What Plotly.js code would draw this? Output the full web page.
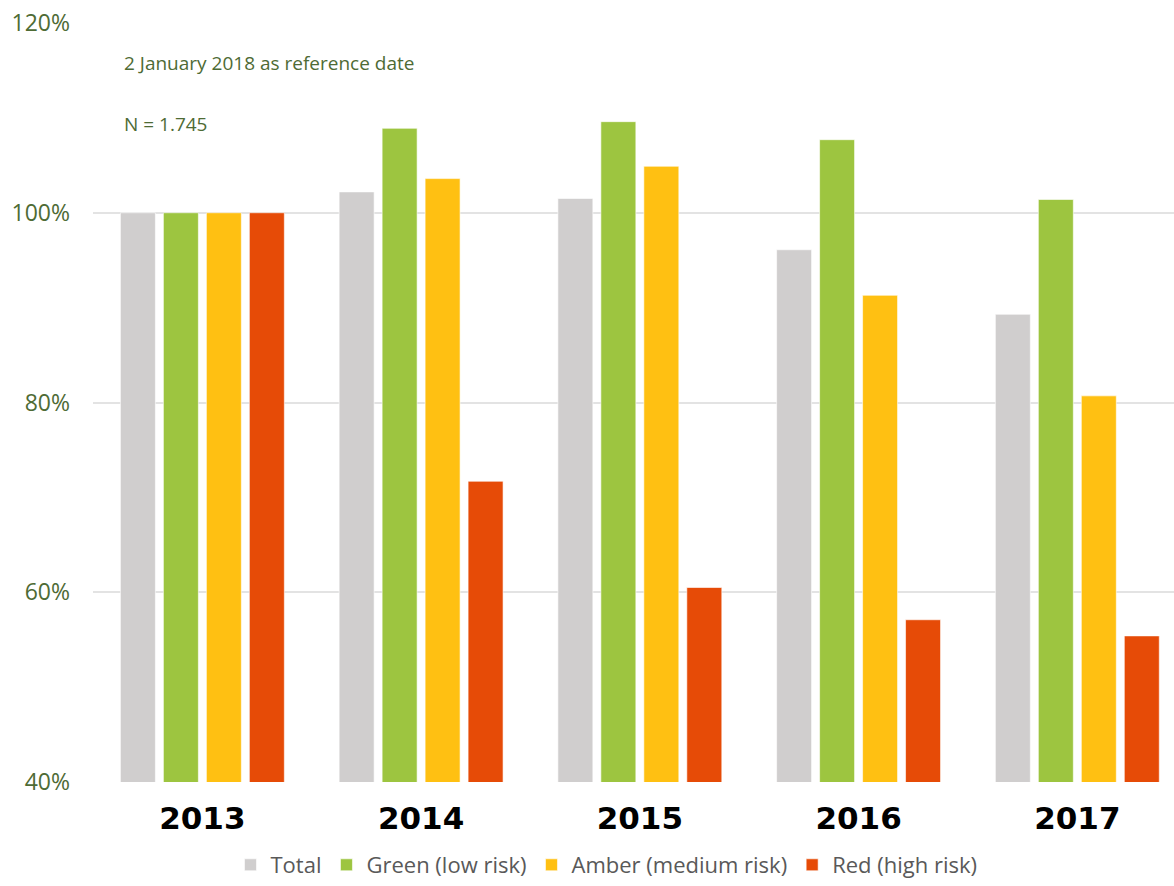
<!DOCTYPE html>
<html>
<head>
<meta charset="utf-8">
<script src="https://cdn.plot.ly/plotly-3.0.1.min.js"></script>
<style>html,body{margin:0;padding:0;background:#fff;}#chart{width:1174px;height:886px;}</style>
</head>
<body>
<div id="chart"></div>
<script>
const years = ["2013", "2014", "2015", "2016", "2017"];
const totalVals = [100, 102.2, 101.5, 96.1, 89.3];
const greenVals = [100, 108.9, 109.6, 107.7, 101.4];
const amberVals = [100, 103.6, 104.9, 91.3, 80.7];
const redVals = [100, 71.7, 60.5, 57.1, 55.4];
const seriesNames = ["Total", "Green (low risk)", "Amber (medium risk)", "Red (high risk)"];
const seriesColors = ["#d0cece", "#9dc540", "#ffc012", "#e64b07"];
const yTicks = [40, 60, 80, 100, 120];
const yTickText = ["40%", "60%", "80%", "100%", "120%"];
const noteLines = ["2 January 2018 as reference date", "N = 1.745"];

const allVals = [totalVals, greenVals, amberVals, redVals];
const traces = allVals.map((v, i) => ({
  type: "bar",
  x: years,
  y: v,
  name: seriesNames[i],
  marker: {color: seriesColors[i], line: {color: "rgba(255,255,255,0.6)", width: 1}},
  hoverinfo: "y+name"
}));

const textColor = "#4e6b35";
const layout = {
  width: 1174, height: 886,
  margin: {l: 93, r: 0, t: 23, b: 104},
  paper_bgcolor: "#fff", plot_bgcolor: "#fff",
  barmode: "group",
  bargap: 0.214,
  bargroupgap: 0.186,
  showlegend: true,
  legend: {
    orientation: "h", x: 0.475, xanchor: "center", y: -0.137, yanchor: "bottom",
    font: {family: "Open Sans", size: 22, color: "#595959"},
    itemwidth: 30, traceorder: "normal"
  },
  xaxis: {
    type: "category",
    range: [-0.5, 4.442],
    showgrid: false, zeroline: false, showline: false, ticks: "",
    tickfont: {family: "DejaVu Sans", size: 31, color: "#000", weight: 700},
    ticklabelstandoff: 15, automargin: false
  },
  yaxis: {
    range: [40, 120],
    tickvals: yTicks, ticktext: yTickText,
    showgrid: true, gridcolor: "#e3e3e3", gridwidth: 2,
    zeroline: false, showline: false, ticks: "",
    tickfont: {family: "Open Sans", size: 23, color: textColor},
    ticklabelstandoff: 22, automargin: false
  },
  annotations: noteLines.map((t, i) => ({
    text: t, xref: "paper", yref: "paper",
    x: (122 - 93) / 1081, y: i === 0 ? (782 - 63) / 759 : (782 - 124) / 759,
    xanchor: "left", yanchor: "middle", showarrow: false,
    font: {family: "Open Sans", size: 19, color: textColor}
  }))
};

Plotly.newPlot("chart", traces, layout, {displayModeBar: false, staticPlot: true});
</script>
</body>
</html>
